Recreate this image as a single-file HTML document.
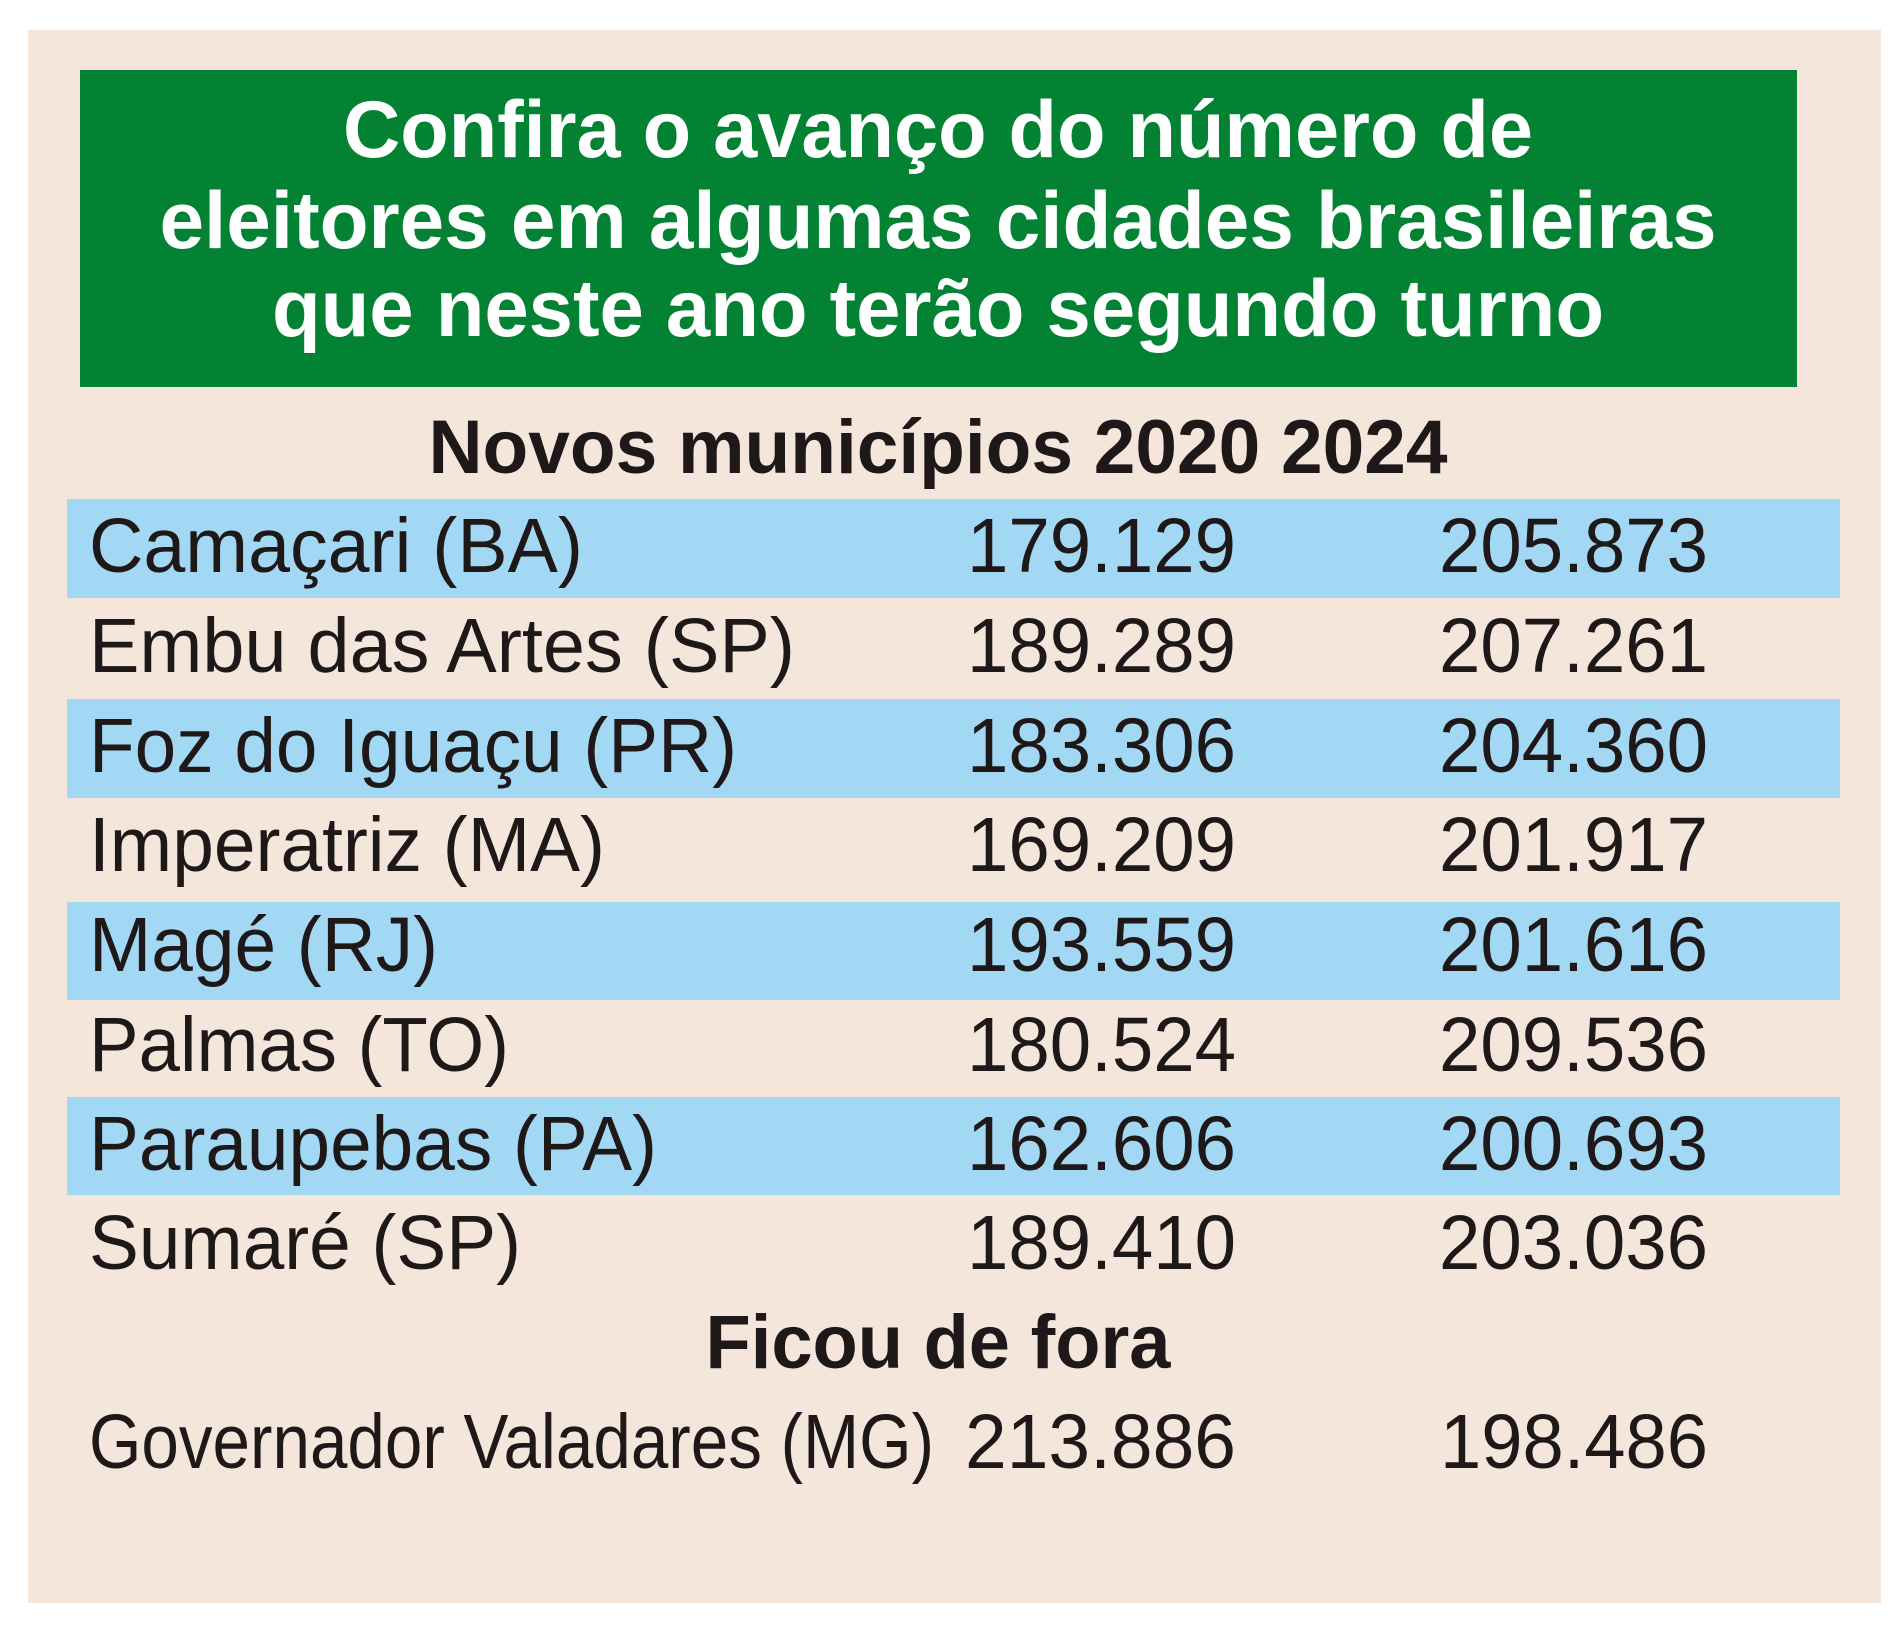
<!DOCTYPE html>
<html>
<head>
<meta charset="utf-8">
<style>
  html, body { margin: 0; padding: 0; background: #ffffff; }
  body { width: 1903px; height: 1632px; overflow: hidden; }
  svg { display: block; }
  .t { font-family: "Liberation Sans", Arial, sans-serif; }
</style>
</head>
<body>
<svg width="1903" height="1632" viewBox="0 0 1903 1632" xmlns="http://www.w3.org/2000/svg">
  <rect x="0" y="0" width="1903" height="1632" fill="#ffffff"/>
  <!-- beige panel -->
  <rect x="28" y="30" width="1853" height="1573" fill="#f5e6dc"/>
  <!-- green title box -->
  <rect x="80" y="70" width="1717" height="317" fill="#038234"/>
  <g class="t" font-weight="bold" font-size="81" fill="#ffffff" text-anchor="middle">
    <text x="938" y="157" textLength="1190" lengthAdjust="spacingAndGlyphs">Confira o avanço do número de</text>
    <text x="938" y="248" textLength="1557" lengthAdjust="spacingAndGlyphs">eleitores em algumas cidades brasileiras</text>
    <text x="938" y="336" textLength="1332" lengthAdjust="spacingAndGlyphs">que neste ano terão segundo turno</text>
  </g>

  <!-- blue bands -->
  <g fill="#a2d8f4">
    <rect x="67" y="499" width="1773" height="99"/>
    <rect x="67" y="699" width="1773" height="99"/>
    <rect x="67" y="902" width="1773" height="98"/>
    <rect x="67" y="1097" width="1773" height="98"/>
  </g>

  <g class="t" fill="#1f1818">
    <text x="938" y="473" font-weight="bold" font-size="76" text-anchor="middle" textLength="1019" lengthAdjust="spacingAndGlyphs">Novos municípios 2020 2024</text>

    <g font-size="77">
      <text x="89" y="572" textLength="494" lengthAdjust="spacingAndGlyphs">Camaçari (BA)</text>
      <text x="89" y="672" textLength="706" lengthAdjust="spacingAndGlyphs">Embu das Artes (SP)</text>
      <text x="89" y="772" textLength="648" lengthAdjust="spacingAndGlyphs">Foz do Iguaçu (PR)</text>
      <text x="89" y="871" textLength="516" lengthAdjust="spacingAndGlyphs">Imperatriz (MA)</text>
      <text x="89" y="971" textLength="349" lengthAdjust="spacingAndGlyphs">Magé (RJ)</text>
      <text x="89" y="1071" textLength="420" lengthAdjust="spacingAndGlyphs">Palmas (TO)</text>
      <text x="89" y="1170" textLength="568" lengthAdjust="spacingAndGlyphs">Paraupebas (PA)</text>
      <text x="89" y="1269" textLength="432" lengthAdjust="spacingAndGlyphs">Sumaré (SP)</text>
      <text x="89" y="1468" textLength="845" lengthAdjust="spacingAndGlyphs">Governador Valadares (MG)</text>
    </g>

    <g font-size="77" text-anchor="end">
      <text x="1236" y="572" textLength="269" lengthAdjust="spacingAndGlyphs">179.129</text>
      <text x="1236" y="672" textLength="269" lengthAdjust="spacingAndGlyphs">189.289</text>
      <text x="1236" y="772" textLength="269" lengthAdjust="spacingAndGlyphs">183.306</text>
      <text x="1236" y="871" textLength="269" lengthAdjust="spacingAndGlyphs">169.209</text>
      <text x="1236" y="971" textLength="269" lengthAdjust="spacingAndGlyphs">193.559</text>
      <text x="1236" y="1071" textLength="269" lengthAdjust="spacingAndGlyphs">180.524</text>
      <text x="1236" y="1170" textLength="269" lengthAdjust="spacingAndGlyphs">162.606</text>
      <text x="1236" y="1269" textLength="269" lengthAdjust="spacingAndGlyphs">189.410</text>
      <text x="1236" y="1468" textLength="271" lengthAdjust="spacingAndGlyphs">213.886</text>

      <text x="1708" y="572" textLength="269" lengthAdjust="spacingAndGlyphs">205.873</text>
      <text x="1708" y="672" textLength="269" lengthAdjust="spacingAndGlyphs">207.261</text>
      <text x="1708" y="772" textLength="269" lengthAdjust="spacingAndGlyphs">204.360</text>
      <text x="1708" y="871" textLength="269" lengthAdjust="spacingAndGlyphs">201.917</text>
      <text x="1708" y="971" textLength="269" lengthAdjust="spacingAndGlyphs">201.616</text>
      <text x="1708" y="1071" textLength="269" lengthAdjust="spacingAndGlyphs">209.536</text>
      <text x="1708" y="1170" textLength="269" lengthAdjust="spacingAndGlyphs">200.693</text>
      <text x="1708" y="1269" textLength="269" lengthAdjust="spacingAndGlyphs">203.036</text>
      <text x="1708" y="1468" textLength="268" lengthAdjust="spacingAndGlyphs">198.486</text>
    </g>

    <text x="938" y="1368" font-weight="bold" font-size="76" text-anchor="middle" textLength="465" lengthAdjust="spacingAndGlyphs">Ficou de fora</text>
  </g>
</svg>
</body>
</html>
